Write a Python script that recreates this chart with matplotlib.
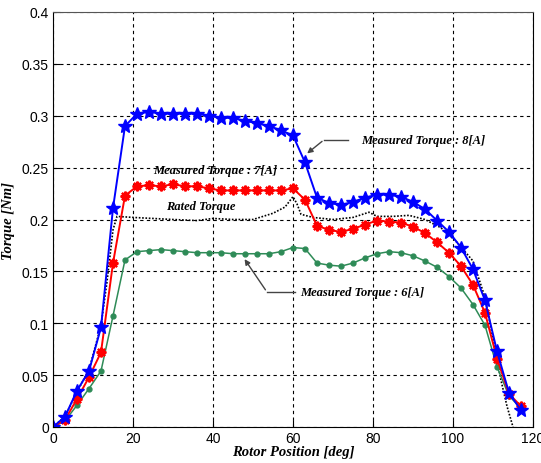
import numpy as np
import matplotlib.pyplot as plt

# Posición del rotor (cada 3 grados)
pos = np.arange(0, 120, 3)

torque_8A = [0.000, 0.010, 0.035, 0.054, 0.096, 0.211, 0.290, 0.302, 0.304, 0.302,
             0.302, 0.302, 0.302, 0.300, 0.298, 0.298, 0.295, 0.293, 0.290, 0.286,
             0.281, 0.255, 0.221, 0.216, 0.214, 0.217, 0.221, 0.224, 0.224, 0.222,
             0.217, 0.210, 0.199, 0.188, 0.173, 0.152, 0.122, 0.073, 0.033, 0.016]

torque_7A = [0.000, 0.007, 0.027, 0.048, 0.072, 0.158, 0.223, 0.232, 0.233, 0.232,
             0.234, 0.232, 0.232, 0.230, 0.228, 0.228, 0.228, 0.228, 0.228, 0.228,
             0.230, 0.219, 0.194, 0.190, 0.188, 0.191, 0.195, 0.199, 0.198, 0.197,
             0.193, 0.187, 0.178, 0.168, 0.155, 0.137, 0.110, 0.066, 0.032, 0.020]

torque_6A = [0.000, 0.006, 0.021, 0.037, 0.054, 0.107, 0.161, 0.169, 0.170, 0.171,
             0.170, 0.169, 0.168, 0.168, 0.168, 0.167, 0.167, 0.167, 0.167, 0.169,
             0.173, 0.172, 0.158, 0.156, 0.155, 0.158, 0.163, 0.167, 0.169, 0.168,
             0.165, 0.160, 0.154, 0.145, 0.134, 0.118, 0.098, 0.058, 0.030, 0.018]

rated_pos = [0, 3, 6, 9, 12, 13.5, 15, 16, 20, 25, 30, 36, 40, 45, 50, 55, 58, 60,
             61, 62, 65, 70, 75, 79, 81, 85, 89, 93, 97, 101, 105, 108, 110, 112,
             113.5, 115]
rated_torque = [0.000, 0.010, 0.034, 0.055, 0.098, 0.140, 0.190, 0.203, 0.202, 0.201,
                0.200, 0.199, 0.201, 0.200, 0.200, 0.206, 0.212, 0.222, 0.215, 0.205,
                0.202, 0.200, 0.202, 0.207, 0.203, 0.203, 0.204, 0.200, 0.192, 0.178,
                0.160, 0.125, 0.085, 0.045, 0.020, 0.000]

serif = {'family': 'Liberation Serif', 'weight': 'bold', 'style': 'italic'}

fig = plt.figure(figsize=(5.41, 4.64), dpi=100)
ax = fig.add_axes([53 / 541, 36 / 464, 480 / 541, 415 / 464])

ax.plot(rated_pos, rated_torque, color='black', linestyle=(0, (1, 1)), linewidth=1.2)
ax.plot(pos, torque_6A, color='#2e8b57', linewidth=1.1, marker='o', markersize=3.5)
ax.plot(pos, torque_7A, color='red', linewidth=1.4, marker=(8, 2, 0),
        markersize=7, markeredgewidth=1.6)
ax.plot(pos, torque_8A, color='blue', linewidth=1.4, marker='*', markersize=10)

ax.set_xlim(0, 120)
ax.set_ylim(0, 0.4)
ax.set_xticks(np.arange(0, 121, 20))
ax.set_yticks(np.arange(0, 0.401, 0.05))
ax.set_yticklabels(['0', '0.05', '0.1', '0.15', '0.2', '0.25', '0.3', '0.35', '0.4'])
ax.tick_params(direction='in', labelsize=10, length=5, pad=3)
for lbl in ax.get_xticklabels() + ax.get_yticklabels():
    lbl.set_family('Liberation Sans')
ax.grid(True, color='black', linestyle=(0, (3, 3)), linewidth=0.8)
ax.set_axisbelow(True)
ax.spines['top'].set_color('#555555')

ax.set_xlabel('Rotor Position [deg]', fontdict=serif, fontsize=10.5, labelpad=0)
ax.set_ylabel('Torque [Nm]', fontdict=serif, fontsize=10.5, labelpad=5)

arrow = dict(arrowstyle='-|>', color='#444444', linewidth=1, mutation_scale=8)
ax.annotate('', xy=(63.0, 0.262), xytext=(67.8, 0.277), arrowprops=arrow)
ax.plot([67.8, 73.8], [0.277, 0.277], color='#444444', linewidth=1)
ax.text(77, 0.277, 'Measured Torque : 8[A]', fontdict=serif, fontsize=9, va='center')

ax.annotate('', xy=(47.5, 0.164), xytext=(53.5, 0.130), arrowprops=arrow)
ax.plot([53.5, 60.5], [0.130, 0.130], color='#444444', linewidth=1)
ax.text(61.8, 0.130, 'Measured Torque : 6[A]', fontdict=serif, fontsize=9, va='center')

ax.text(40.6, 0.248, 'Measured Torque : 7[A]', fontdict=serif, fontsize=9,
        va='center', ha='center')
ax.text(37, 0.213, 'Rated Torque', fontdict=serif, fontsize=9, va='center', ha='center')

fig.savefig('out.png', dpi=100)
